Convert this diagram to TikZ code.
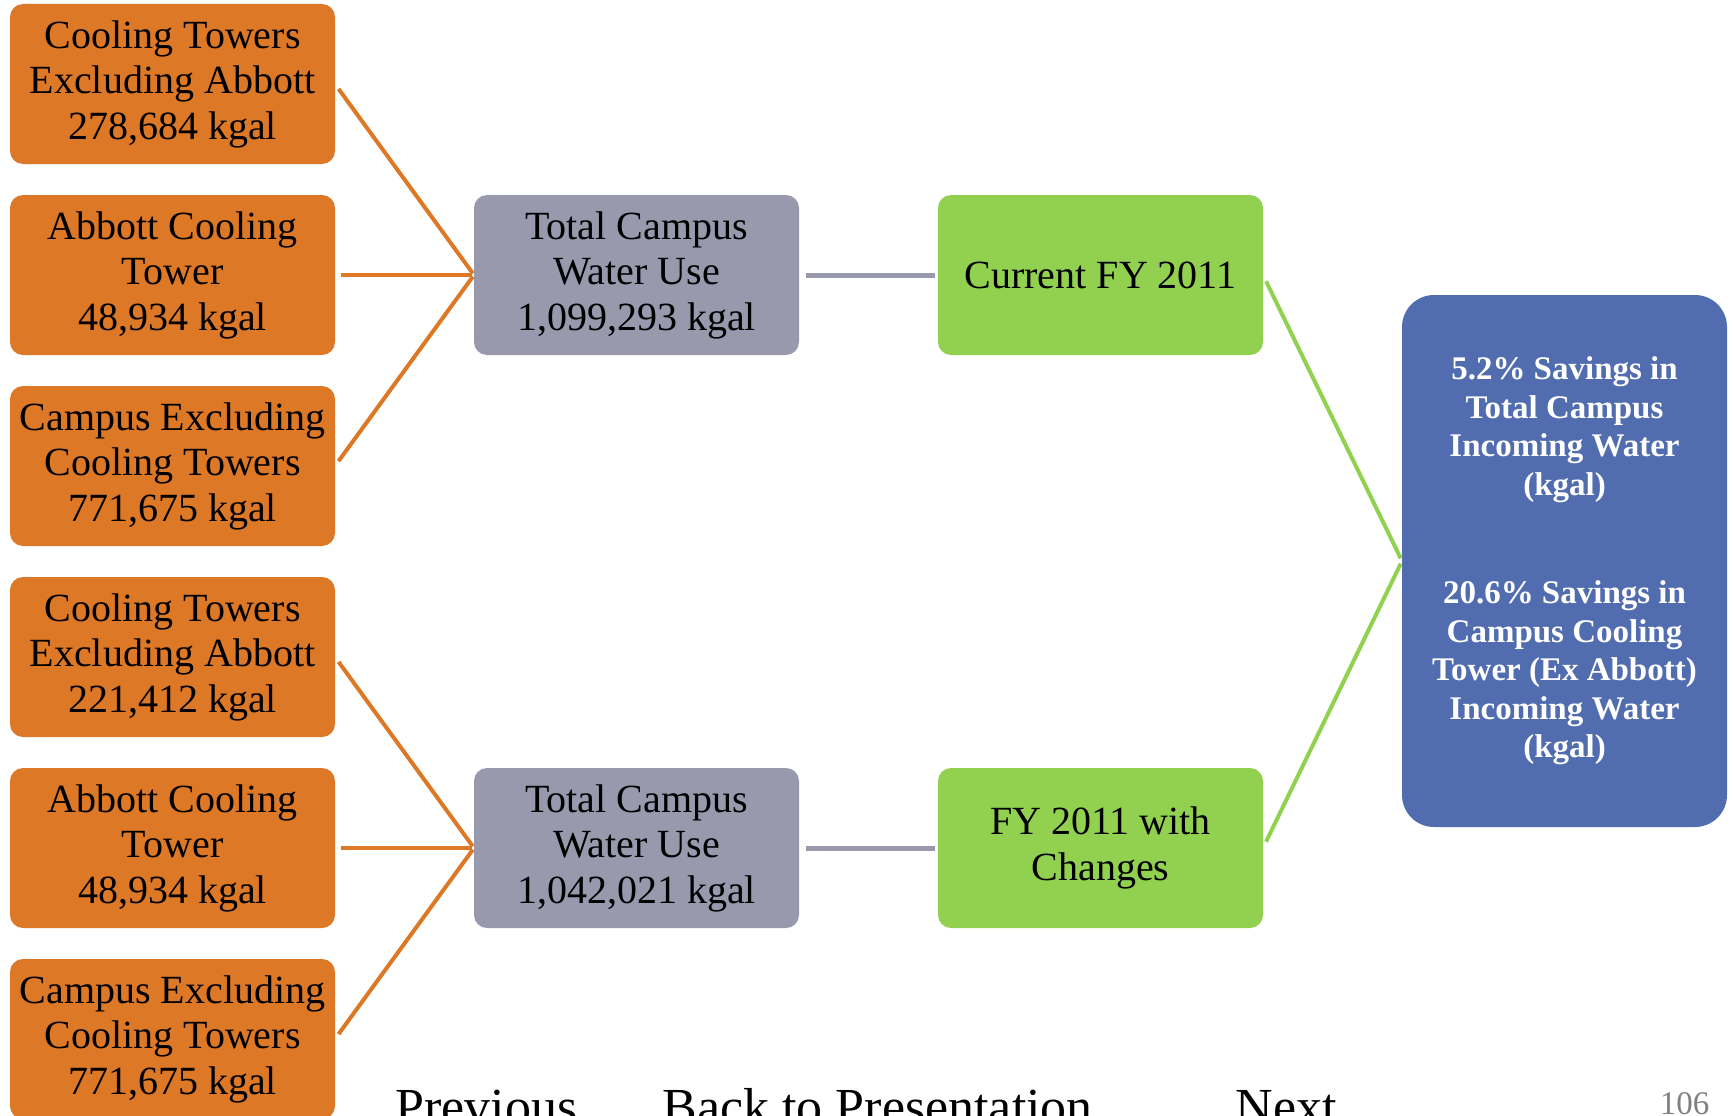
\documentclass[tikz,border=0pt]{standalone}
\usepackage{fontspec}
\setmainfont{Liberation Serif}
\usetikzlibrary{positioning}

\definecolor{towerorange}{RGB}{221,120,38}
\definecolor{usegray}{RGB}{152,153,173}
\definecolor{fygreen}{RGB}{146,208,80}
\definecolor{savingsblue}{RGB}{81,109,176}

\begin{document}
\begin{tikzpicture}[x=1pt, y=-1pt,
    box/.style = {rounded corners=13pt, minimum width=325pt, minimum height=160pt,
                  inner sep=0pt, outer sep=0pt, align=center,
                  font=\fontsize{40}{45.5}\selectfont},
    src/.style = {box, fill=towerorange},
    total/.style = {box, fill=usegray},
    fy/.style = {box, fill=fygreen},
    link/.style = {line width=4pt, shorten <=6pt, shorten >=2pt},
    nav/.style = {anchor=base west, font=\fontsize{52}{60}\selectfont}]

    \useasboundingbox (0,0) rectangle (1733,1116);

    % the six orange sources, top three now, bottom three with changes
    \node [src] (a1) at (172.5,84) {Cooling Towers\\Excluding Abbott\\278,684 kgal};
    \node [src, below=31pt of a1] (a2) {Abbott Cooling\\Tower\\48,934 kgal};
    \node [src, below=31pt of a2] (a3) {Campus Excluding\\Cooling Towers\\771,675 kgal};
    \node [src, below=31pt of a3] (a4) {Cooling Towers\\Excluding Abbott\\221,412 kgal};
    \node [src, below=31pt of a4] (a5) {Abbott Cooling\\Tower\\48,934 kgal};
    \node [src, below=31pt of a5] (a6) {Campus Excluding\\Cooling Towers\\771,675 kgal};

    % totals
    \node [total, right=139pt of a2] (g1) {Total Campus\\Water Use\\1,099,293 kgal};
    \node [total, right=139pt of a5] (g2) {Total Campus\\Water Use\\1,042,021 kgal};

    % the two cases
    \node [fy, right=139pt of g1] (c1) {Current FY 2011};
    \node [fy, right=139pt of g2] (c2) {FY 2011 with\\Changes};

    % result
    \node [box, fill=savingsblue, text=white, minimum height=532pt, rounded corners=32pt,
           font=\bfseries\fontsize{33}{38.5}\selectfont] (sv) at (1564.5,561)
        {5.2\% Savings in\\Total Campus\\Incoming Water\\(kgal)\\[70pt]
         20.6\% Savings in\\Campus Cooling\\Tower (Ex Abbott)\\Incoming Water\\(kgal)};

    % connectors
    \draw [link, towerorange] (a1.east) -- (g1.west);
    \draw [link, towerorange] (a2.east) -- (g1.west);
    \draw [link, towerorange] (a3.east) -- (g1.west);
    \draw [link, towerorange] (a4.east) -- (g2.west);
    \draw [link, towerorange] (a5.east) -- (g2.west);
    \draw [link, towerorange] (a6.east) -- (g2.west);

    \draw [link, usegray, line width=5pt, shorten <=7pt, shorten >=3pt] (g1.east) -- (c1.west);
    \draw [link, usegray, line width=5pt, shorten <=7pt, shorten >=3pt] (g2.east) -- (c2.west);

    \draw [link, fygreen, shorten <=7pt, shorten >=3pt] (c1.east) -- (sv.west);
    \draw [link, fygreen, shorten <=7pt, shorten >=3pt] (c2.east) -- (sv.west);

    % footer links, cut off by the page edge
    \node [nav] (prev) at (392,1124) {Previous};
    \node [nav] (back) at (659,1124) {Back to Presentation};
    \node [nav] (next) at (1232,1124) {Next};
    \node [anchor=base east, text=gray, font=\fontsize{33}{40}\selectfont] (page) at (1713,1114) {106};
\end{tikzpicture}
\end{document}
